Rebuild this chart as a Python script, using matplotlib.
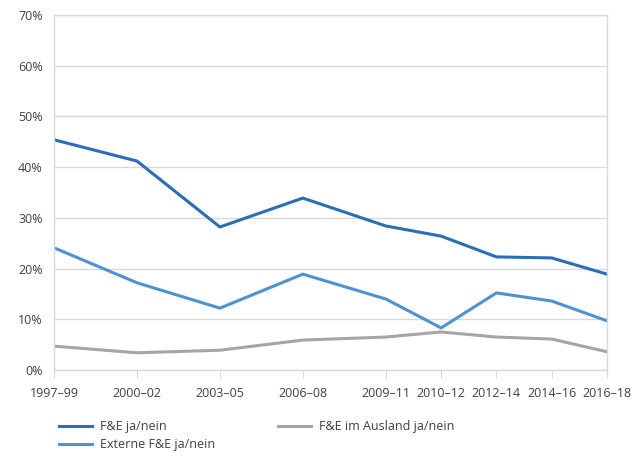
import matplotlib
matplotlib.use("Agg")
import matplotlib.pyplot as plt

categories = ["1997–99", "2000–02", "2003–05", "2006–08", "2009–11",
              "2010–12", "2012–14", "2014–16", "2016–18"]
x_pos = [0, 3, 6, 9, 12, 14, 16, 18, 20]
fe = [45.4, 41.2, 28.2, 33.9, 28.4, 26.4, 22.3, 22.1, 18.9]
externe = [24.1, 17.2, 12.2, 18.9, 14.0, 8.3, 15.2, 13.6, 9.7]
ausland = [4.7, 3.4, 3.9, 5.9, 6.5, 7.5, 6.5, 6.1, 3.6]
yticks = [0, 10, 20, 30, 40, 50, 60, 70]

plt.rcParams['font.family'] = ['Open Sans', 'DejaVu Sans']
txt = '#404040'
grid = '#d9d9d9'

fig = plt.figure(figsize=(6.44, 4.58), dpi=100)
ax = fig.add_axes([54/644, 1-370/458, (607-54)/644, (370-15)/458])

l1, = ax.plot(x_pos, fe, color='#2a6db8', lw=2.2, label='F&E ja/nein')
l2, = ax.plot(x_pos, externe, color='#4b93d3', lw=2.2, label='Externe F&E ja/nein')
l3, = ax.plot(x_pos, ausland, color='#a5a5a5', lw=2.2, label='F&E im Ausland ja/nein')

ax.set_xlim(x_pos[0], x_pos[-1])
ax.set_ylim(0, 70)
ax.set_yticks(yticks)
ax.set_yticklabels([f"{v}%" for v in yticks])
ax.set_xticks(x_pos)
ax.set_xticklabels(categories)
ax.grid(axis='y', color=grid, lw=1)
ax.set_axisbelow(True)
for s in ax.spines.values():
    s.set_color(grid)
    s.set_linewidth(1)
ax.tick_params(axis='y', length=0, pad=8, labelsize=9, labelcolor=txt)
ax.tick_params(axis='x', length=6, color=grid, pad=6, labelsize=9, labelcolor=txt)

fig.legend(handles=[l1, l2, l3], ncol=2, loc='upper left',
           bbox_to_anchor=(48/644, 1-409/458), frameon=False,
           fontsize=9, labelcolor=txt, handlelength=2.6,
           columnspacing=5.0, handletextpad=0.7, labelspacing=0.4)

fig.savefig('out.png', dpi=100)
